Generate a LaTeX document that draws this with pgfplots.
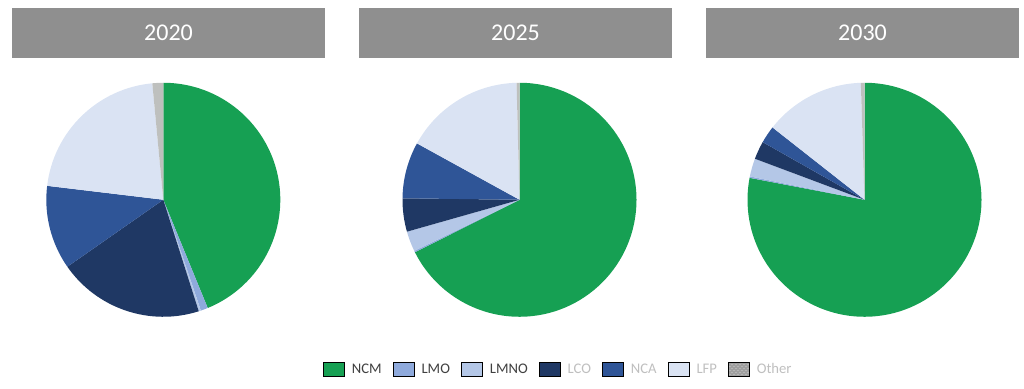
\documentclass[border=0pt]{standalone}
\usepackage{pgfplots}
\usepackage{pgfplotstable}
\pgfplotsset{compat=1.18}
\usetikzlibrary{patterns}
\usepackage{fontspec}
\setmainfont{Carlito}

\definecolor{c0}{RGB}{22,160,83}   % NCM
\definecolor{c1}{RGB}{143,170,220} % LMO
\definecolor{c2}{RGB}{180,199,231} % LMNO
\definecolor{c3}{RGB}{31,56,100}   % LCO
\definecolor{c4}{RGB}{47,85,151}   % NCA
\definecolor{c5}{RGB}{218,227,243} % LFP
\definecolor{c6}{RGB}{190,192,190} % Other
\definecolor{banner}{RGB}{143,143,143}
\definecolor{legdark}{RGB}{64,64,64}
\definecolor{leglight}{RGB}{191,191,191}

% shares in percent, clockwise from 12 o'clock
\pgfplotstableread{
name  value
NCM   43.8
LMO   1.0
LMNO  0.3
LCO   20.2
NCA   11.6
LFP   21.6
Other 1.5
}\dataA
\pgfplotstableread{
name  value
NCM   67.6
LMO   0.2
LMNO  2.8
LCO   4.6
NCA   7.8
LFP   16.6
Other 0.4
}\dataB
\pgfplotstableread{
name  value
NCM   78.0
LMO   0.2
LMNO  2.5
LCO   2.5
NCA   2.4
LFP   13.9
Other 0.5
}\dataC

\newcommand\pie[3]{% table, cx, cy (axis units = px)
  \xdef\startang{90}%
  \pgfplotstableforeachcolumnelement{value}\of#1\as\v{%
    \pgfmathsetmacro\endang{\startang-3.6*\v}%
    \fill[c\pgfplotstablerow] (axis cs:#2,#3) -- ++(\startang:87.75pt)
      arc[start angle=\startang, end angle=\endang, radius=87.75pt] -- cycle;%
    \xdef\startang{\endang}%
  }%
}

\begin{document}
\begin{tikzpicture}
\begin{axis}[
  width=768pt, height=291pt, scale only axis,
  xmin=0, xmax=1024, ymin=0, ymax=388,
  hide axis, clip=false,
  legend image code/.code={\fill[#1] (0pt,-5.25pt) rectangle (15.75pt,5.25pt);},
  legend columns=-1,
  legend style={draw=none, fill=none, inner sep=0pt,
    at={(0.5444,0.049)}, anchor=center,
    font=\fontsize{11}{13}\selectfont,
    nodes={inner sep=0pt, anchor=west},
    /tikz/every odd column/.append style={column sep=5.25pt},
    /tikz/every even column/.append style={column sep=8.5pt}},
]
\path (rel axis cs:0,0) rectangle (rel axis cs:1,1);

% banners
\fill[banner] (axis cs:12,330) rectangle (axis cs:325,380);
\fill[banner] (axis cs:359,330) rectangle (axis cs:672,380);
\fill[banner] (axis cs:706,330) rectangle (axis cs:1019,380);
\node[white, font=\fontsize{18}{20}\selectfont] at (axis cs:168.5,355) {2020};
\node[white, font=\fontsize{18}{20}\selectfont] at (axis cs:515.5,355) {2025};
\node[white, font=\fontsize{18}{20}\selectfont] at (axis cs:862.5,355) {2030};

% pies
\pgfplotsextra{%
  \pie{\dataA}{163.3}{188.5}%
  \pie{\dataB}{519.5}{188.5}%
  \pie{\dataC}{864.5}{188.5}%
}

% legend
\addlegendimage{fill=c0}\addlegendentry{\textcolor{legdark}{NCM}}
\addlegendimage{fill=c1}\addlegendentry{\textcolor{legdark}{LMO}}
\addlegendimage{fill=c2}\addlegendentry{\textcolor{legdark}{LMNO}}
\addlegendimage{fill=c3}\addlegendentry{\textcolor{leglight}{LCO}}
\addlegendimage{fill=c4}\addlegendentry{\textcolor{leglight}{NCA}}
\addlegendimage{fill=c5}\addlegendentry{\textcolor{leglight}{LFP}}
\addlegendimage{fill=gray!75, postaction={pattern=crosshatch dots, pattern color=gray!40}}\addlegendentry{\textcolor{leglight}{Other}}
\end{axis}
\end{tikzpicture}
\end{document}
